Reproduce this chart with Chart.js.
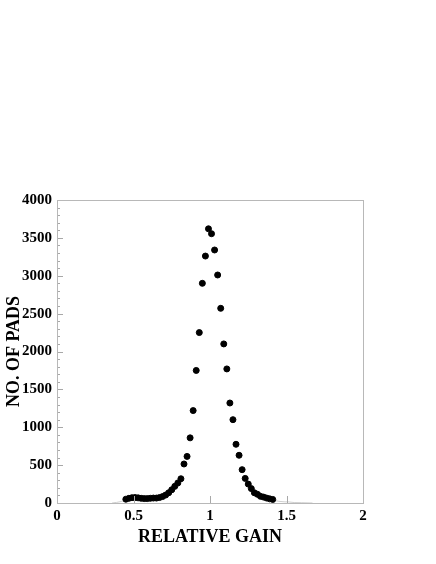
<!DOCTYPE html>
<html>
<head>
<meta charset="utf-8">
<script src="https://cdn.jsdelivr.net/npm/chart.js@4.4.1/dist/chart.umd.min.js"></script>
<style>
html,body{margin:0;padding:0;background:#fff;}
#wrap{width:436px;height:564px;position:relative;}
</style>
</head>
<body>
<div id="wrap"><canvas id="c" width="436" height="564"></canvas></div>
<script>
const gainValues = [0.45,0.47,0.49,0.51,0.53,0.55,0.57,0.59,0.61,0.63,0.65,0.67,0.69,0.71,0.73,0.75,0.77,0.79,
  0.81,0.83,0.85,0.87,0.89,0.91,0.93,0.95,0.97,0.99,1.01,1.03,1.05,1.07,1.09,1.11,1.13,1.15,1.17,1.19,1.21,1.23,
  1.25,1.27,1.29,1.31,1.33,1.35,1.37,1.39,1.41];
const padCounts = [50,62,70,72,68,62,58,58,62,65,65,72,85,105,135,175,220,265,
  320,515,615,860,1220,1750,2250,2900,3260,3620,3555,3340,3010,2570,2100,1770,1320,1100,775,630,440,325,
  250,190,135,115,88,78,65,55,47];
const tailGain = [0.36,0.39,0.42,0.45,null,1.41,1.45,1.49,1.51,1.55,1.6,1.67];
const tailCounts = [0,8,20,40,null,40,22,15,15,6,4,0];
const xTickValues = [0,0.5,1,1.5,2];
const yMajorStep = 500;
const yMinorStep = 100;

const dots = gainValues.map((g,i)=>({x:g,y:padCounts[i]}));
const tail = tailGain.map((g,i)=> g===null ? {x:NaN,y:NaN} : ({x:g,y:tailCounts[i]}));

const tickPlugin = {
  id:'inTicks',
  afterDraw(chart){
    const {ctx, chartArea:a, scales:{x,y}} = chart;
    ctx.save();
    ctx.strokeStyle = '#a8a8a8';
    ctx.lineWidth = 1;
    ctx.beginPath();
    y.ticks.forEach(t=>{
      const py = Math.round(y.getPixelForValue(t.value))+0.5;
      const len = (t.value % yMajorStep === 0) ? 6 : 3;
      ctx.moveTo(a.left, py); ctx.lineTo(a.left+len, py);
    });
    xTickValues.forEach(v=>{
      const px = Math.round(x.getPixelForValue(v))+0.5;
      ctx.moveTo(px, a.bottom); ctx.lineTo(px, a.bottom-7);
    });
    ctx.stroke();
    ctx.strokeStyle = '#b8b8b8';
    ctx.strokeRect(Math.round(a.left)+0.5, Math.round(a.top)+0.5, Math.round(a.right-a.left), Math.round(a.bottom-a.top));
    ctx.restore();
  }
};

new Chart(document.getElementById('c'), {
  type:'scatter',
  data:{datasets:[
    {data:tail, showLine:true, spanGaps:false, borderColor:'#cfcfcf', borderWidth:1, pointRadius:0, order:2},
    {data:dots, backgroundColor:'#000', borderColor:'#000', pointRadius:3, pointHoverRadius:3, order:1}
  ]},
  options:{
    responsive:false, animation:false,
    layout:{padding:{top:200,right:73,left:0,bottom:0}},
    plugins:{legend:{display:false}, tooltip:{enabled:false}},
    scales:{
      x:{type:'linear', min:0, max:2,
        afterFit(s){s.height=61;},
        afterBuildTicks(s){s.ticks = xTickValues.map(v=>({value:v}));},
        grid:{display:false, drawTicks:false},
        border:{display:true, color:'#a8a8a8'},
        ticks:{padding:4, color:'#000', font:{family:'Liberation Serif', size:15, weight:'bold'},
          callback:v=>String(v)},
        title:{display:true, text:'RELATIVE GAIN', color:'#000', padding:{top:0,bottom:16},
          font:{family:'Liberation Serif', size:18, weight:'bold'}}
      },
      y:{type:'linear', min:0, max:4000,
        afterFit(s){s.width=57;},
        grid:{display:false, drawTicks:false},
        border:{display:true, color:'#a8a8a8'},
        ticks:{stepSize:yMinorStep, autoSkip:false, padding:5, color:'#000',
          font:{family:'Liberation Serif', size:15, weight:'bold'},
          callback:v=> (v % yMajorStep === 0) ? String(v) : ''},
        title:{display:true, text:'NO. OF PADS', color:'#000', padding:{top:4,bottom:0},
          font:{family:'Liberation Serif', size:18, weight:'bold'}}
      }
    }
  },
  plugins:[tickPlugin]
});
</script>
</body>
</html>
